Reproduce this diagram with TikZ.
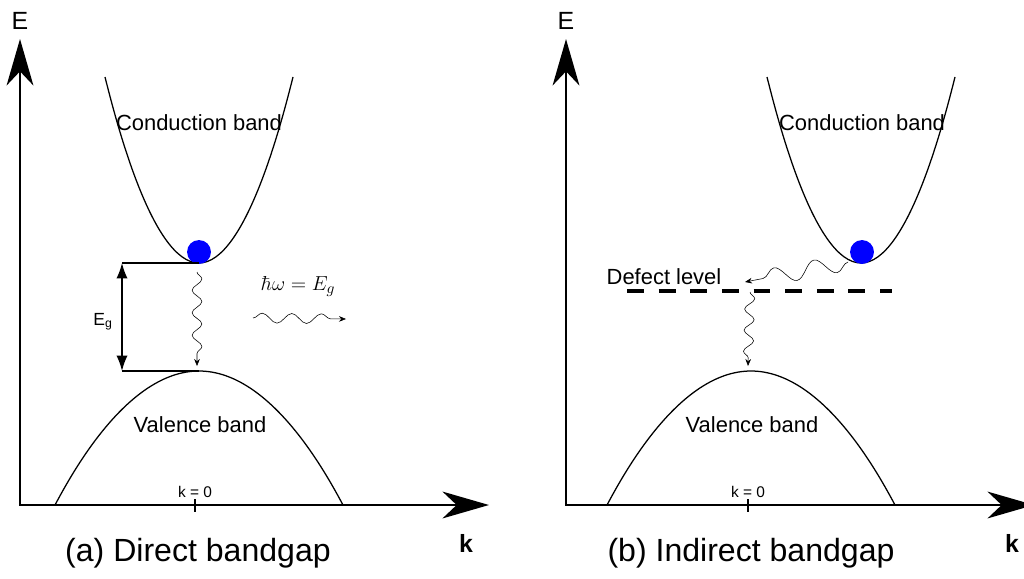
\documentclass[tikz,border=0pt]{standalone}
\usepackage[no-math]{fontspec}
\setmainfont{Liberation Sans}
\usetikzlibrary{arrows.meta,decorations.pathmorphing}

\begin{document}
\begin{tikzpicture}[x=0.025cm,y=-0.025cm,line join=miter,
  axes/.style={line width=2.1pt,{Stealth[length=33pt,width=19pt,inset=10pt]}-{Stealth[length=33pt,width=19pt,inset=10pt]}},
  band/.style={line width=0.9pt},
  level/.style={line width=0.8pt},
  defect/.style={line width=3.2pt,dash pattern=on 12pt off 10.5pt},
  photon/.style={line width=0.4pt,-{Stealth[length=5pt,width=4pt]},decorate,
    decoration={snake,segment length=#1,amplitude=3.5pt,post length=4pt}},
  photon/.default=16pt,
  ball/.style={circle,fill=blue,inner sep=0pt,minimum size=17pt},
  txt/.style={font=\fontsize{15.6}{18}\selectfont,anchor=base},
  small/.style={font=\fontsize{11}{13}\selectfont,anchor=base},
  caption/.style={font=\fontsize{22.8}{26}\selectfont,anchor=base},
  axlabel/.style={font=\fontsize{17.7}{20}\selectfont,anchor=base}]
  \useasboundingbox (0,0) rectangle (1024,578);

  % axes of both panels
  \foreach \p/\ox/\xe/\kx/\kl in {A/20/489/195/466,B/566/1034/748/1012} {
    \coordinate (o\p) at (\ox,505);
    \coordinate (y\p) at (\ox,39);
    \coordinate (x\p) at (\xe,505);
    \draw[axes] (y\p) -- (o\p) -- (x\p);
    \draw[line width=1.5pt] (\kx,499) -- (\kx,512);
    \node[small] (kzero\p) at (\kx,497) {k = 0};
    \node[axlabel] (E\p) at (\ox,30) {E};
    \node[axlabel,font=\fontsize{17.7}{20}\selectfont\bfseries] (k\p) at (\kl,552) {k};
  }

  % (a) direct bandgap
  \draw[band] (105,77) parabola bend (199,263) (293,77);
  \draw[band] (55,505) parabola bend (199,371) (343,505);
  \node[txt] (cbA) at (199,130) {Conduction band};
  \node[txt] (vbA) at (200,432) {Valence band};
  \node[ball] (eA) at (199,252) {};
  \coordinate (cminA) at (199,263);
  \coordinate (vmaxA) at (199,371);
  \coordinate (gtopA) at (122,263);
  \coordinate (gbotA) at (122,371);
  \draw[level] (gtopA) -- (cminA);
  \draw[level] (gbotA) -- (vmaxA);
  \draw[line width=1.1pt,{Latex[length=11pt,width=8pt]}-{Latex[length=11pt,width=8pt]}] (gtopA) -- (gbotA);
  \node[anchor=base,font=\fontsize{12.5}{14}\selectfont] (EgA) at (103,325) {E\textsubscript{g}};
  \coordinate (wtopA) at (197,272);
  \coordinate (wbotA) at (197,366);
  \draw[photon] (wtopA) -- (wbotA);
  \node[anchor=base,font=\fontsize{15}{18}\selectfont] (hwA) at (298,290) {$\hbar\omega = E_g$};
  \coordinate (ws) at (253,318);
  \coordinate (we) at (346,319);
  \draw[photon=21pt] (ws) -- (we);
  \node[caption] (capA) at (198,561) {(a) Direct bandgap};

  % (b) indirect bandgap
  \draw[band] (767,77) parabola bend (861,263) (955,77);
  \draw[band] (607,505) parabola bend (751,371) (895,505);
  \node[txt] (cbB) at (862,130) {Conduction band};
  \node[txt] (vbB) at (752,432) {Valence band};
  \node[ball] (eB) at (862,252) {};
  \coordinate (dl) at (627,291);
  \coordinate (dr) at (892,291);
  \draw[defect] (dl) -- (dr);
  \node[txt] (dlB) at (664,284) {Defect level};
  \coordinate (w1s) at (848,262);
  \coordinate (w1e) at (745,282);
  \draw[photon=29pt,decoration={amplitude=6pt}] (w1s) -- (w1e);
  \coordinate (w2s) at (750,292);
  \coordinate (w2e) at (748,366);
  \draw[photon=15pt] (w2s) -- (w2e);
  \node[caption] (capB) at (751,561) {(b) Indirect bandgap};
\end{tikzpicture}
\end{document}
